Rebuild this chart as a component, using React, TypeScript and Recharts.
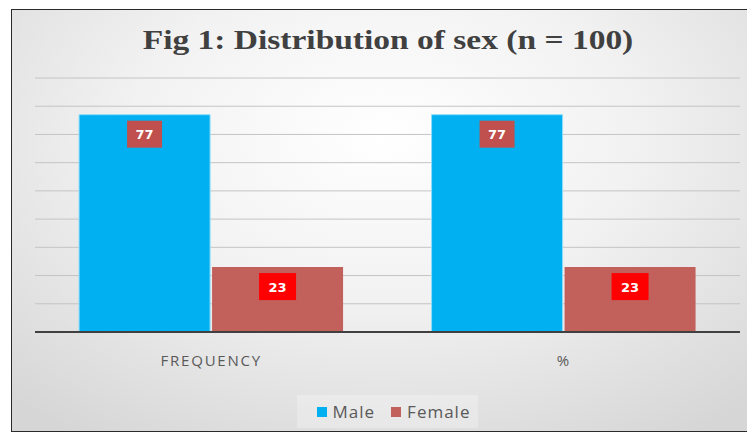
import { BarChart, Bar, XAxis, YAxis, CartesianGrid, Legend, LabelList } from "recharts";

const categories = ["FREQUENCY", "%"];
const male = [77, 77];
const female = [23, 23];
const yTicks = [0, 10, 20, 30, 40, 50, 60, 70, 80, 90];

const data = categories.map((name, i) => ({
  name,
  Male: male[i],
  Female: female[i],
}));

const MALE_COLOR = "#00B0F0";
const FEMALE_COLOR = "#C2605C";

const makeLabel = (boxColor: string, boxW: number) => (props: any) => {
  const { x, y, width, value } = props;
  const cx = x + width / 2;
  const top = y + 6;
  return (
    <g>
      <rect x={cx - boxW / 2} y={top} width={boxW} height={27} fill={boxColor} />
      <text
        x={cx}
        y={top + 14}
        textAnchor="middle"
        dominantBaseline="central"
        fill="#ffffff"
        fontFamily="DejaVu Sans, sans-serif"
        fontWeight="bold"
        fontSize={13}
      >
        {value}
      </text>
    </g>
  );
};

const renderLegend = () => (
  <div style={{ display: "flex", justifyContent: "center", height: 33 }}>
    <div
      style={{
        display: "flex",
        alignItems: "center",
        padding: "0 8px 0 20px",
        background: "rgba(255,255,255,0.25)",
        fontFamily: "'Open Sans', sans-serif",
        fontSize: 17,
        letterSpacing: 1,
        color: "#595959",
      }}
    >
      <span style={{ width: 10, height: 10, background: MALE_COLOR, display: "inline-block", marginRight: 6 }} />
      <span style={{ marginRight: 16 }}>Male</span>
      <span style={{ width: 10, height: 10, background: FEMALE_COLOR, display: "inline-block", marginRight: 6 }} />
      <span>Female</span>
    </div>
  </div>
);

export default function App() {
  return (
    <div
      style={{
        position: "relative",
        margin: "1px 0 0 3px",
        width: 740,
        height: 421,
        border: "1px solid #2a2a2a",
        background:
          "radial-gradient(ellipse 75% 85% at 50% 30%, #ffffff 0%, #f2f2f2 45%, #d6d6d6 100%)",
      }}
    >
      <div
        style={{
          position: "absolute",
          left: 0,
          top: 15,
          width: 752,
          textAlign: "center",
          fontFamily: "'Liberation Serif', serif",
          fontWeight: "bold",
          fontSize: 27,
          color: "#404040",
          transform: "scaleX(1.24)",
          transformOrigin: "376px 0",
        }}
      >
        Fig 1: Distribution of sex (n = 100)
      </div>
      <BarChart
        width={740}
        height={421}
        data={data}
        margin={{ top: 68, right: 12, left: 23, bottom: 36 }}
        barCategoryGap="12.5%"
        barGap={2}
      >
        <CartesianGrid vertical={false} stroke="#c4c4c4" />
        <YAxis hide domain={[0, 90]} ticks={yTicks} />
        <XAxis
          dataKey="name"
          axisLine={{ stroke: "#404040", strokeWidth: 2 }}
          tickLine={false}
          height={30}
          tickMargin={17}
          tick={{
            fill: "#595959",
            fontSize: 15,
            fontFamily: "'Open Sans', sans-serif",
            letterSpacing: 1.8,
          }}
        />
        <Legend
          verticalAlign="bottom"
          content={renderLegend}
          wrapperStyle={{ top: 385, bottom: "auto" }}
        />
        <Bar dataKey="Male" fill={MALE_COLOR} stroke="#8edcf7" strokeWidth={1} isAnimationActive={false}>
          <LabelList dataKey="Male" content={makeLabel("#C0504D", 35)} />
        </Bar>
        <Bar dataKey="Female" fill={FEMALE_COLOR} isAnimationActive={false}>
          <LabelList dataKey="Female" content={makeLabel("#FF0000", 37)} />
        </Bar>
      </BarChart>
    </div>
  );
}
